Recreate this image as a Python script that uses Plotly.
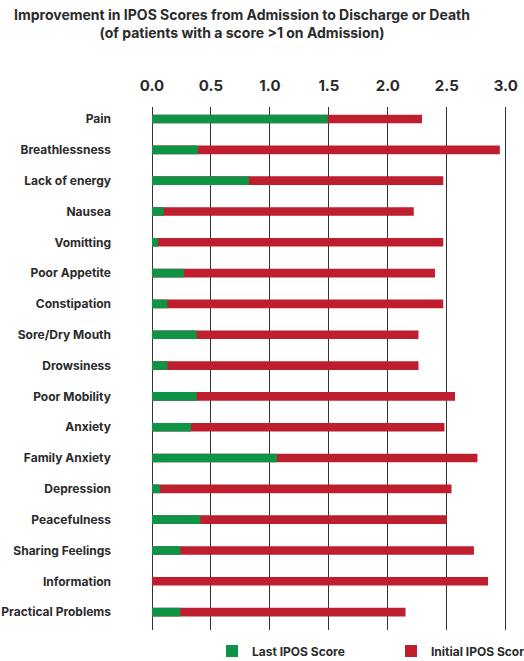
import plotly.graph_objects as go

categories = [
    "Pain", "Breathlessness", "Lack of energy", "Nausea", "Vomitting",
    "Poor Appetite", "Constipation", "Sore/Dry Mouth", "Drowsiness",
    "Poor Mobility", "Anxiety", "Family Anxiety", "Depression",
    "Peacefulness", "Sharing Feelings", "Information", "Practical Problems",
]
initial_scores = [2.29, 2.95, 2.47, 2.22, 2.47, 2.40, 2.47, 2.26, 2.26,
                  2.57, 2.48, 2.76, 2.54, 2.50, 2.73, 2.85, 2.15]
last_scores = [1.49, 0.39, 0.82, 0.10, 0.05, 0.27, 0.13, 0.38, 0.13,
               0.38, 0.33, 1.06, 0.07, 0.41, 0.24, 0.00, 0.24]
tick_values = [0.0, 0.5, 1.0, 1.5, 2.0, 2.5, 3.0]
tick_labels = ["0.0", "0.5", "1.0", "1.5", "2.0", "2.5", "3.0"]

GREEN = "#0f9447"
RED = "#be1e2d"
TEXT = "#2b2b2b"
FONT = "Inter, Roboto, sans-serif"
W, H = 524, 661

fig = go.Figure()
fig.add_trace(go.Bar(
    y=categories, x=initial_scores, orientation="h",
    name="<b>Initial IPOS Score</b>", marker=dict(color=RED, line=dict(width=0)),
    width=0.28, legend="legend2",
))
fig.add_trace(go.Bar(
    y=categories, x=last_scores, orientation="h",
    name="<b>Last IPOS Score</b>", marker=dict(color=GREEN, line=dict(width=0)),
    width=0.28, legend="legend",
))

legend_style = dict(
    orientation="h", xref="container", yref="container",
    xanchor="left", yanchor="middle",
    font=dict(size=12, family=FONT, color=TEXT),
    itemclick=False, itemdoubleclick=False, bgcolor="rgba(0,0,0,0)",
)

fig.update_layout(
    width=W, height=H,
    paper_bgcolor="white", plot_bgcolor="white",
    barmode="overlay",
    margin=dict(l=152, r=10, t=107, b=31, autoexpand=False),
    font=dict(family=FONT, color=TEXT),
    title=dict(
        text="<b>Improvement in IPOS Scores from Admission to Discharge or Death<br>"
             "(of patients with a score >1 on Admission)</b>",
        x=242 / W, xanchor="center", xref="container",
        y=1 - 20 / H, yanchor="top", yref="container",
        font=dict(size=14, family=FONT, color=TEXT),
    ),
    xaxis=dict(
        side="top", range=[0, 3.07],
        tickvals=tick_values, ticktext=[f"<b>{t}</b>" for t in tick_labels],
        tickfont=dict(size=15, family=FONT, color=TEXT),
        showgrid=True, gridcolor="#333333", gridwidth=1.3,
        zeroline=True, zerolinecolor="#333333", zerolinewidth=1.3,
        showline=False, ticks="", ticklabelstandoff=12,
        fixedrange=True,
    ),
    yaxis=dict(
        type="category", categoryorder="array", categoryarray=categories,
        range=[16.58, -0.39],
        tickvals=categories,
        ticktext=[f"<b>{c}</b>" for c in categories],
        tickfont=dict(size=12, family=FONT, color=TEXT),
        showgrid=False, zeroline=False, ticks="", ticklabelstandoff=40,
    ),
    legend=dict(x=(232 - 20) / W, y=1 - 651 / H, **legend_style),
    legend2=dict(x=(411 - 20) / W, y=1 - 651 / H, **legend_style),
    showlegend=True,
)

fig.write_html("out.html")
